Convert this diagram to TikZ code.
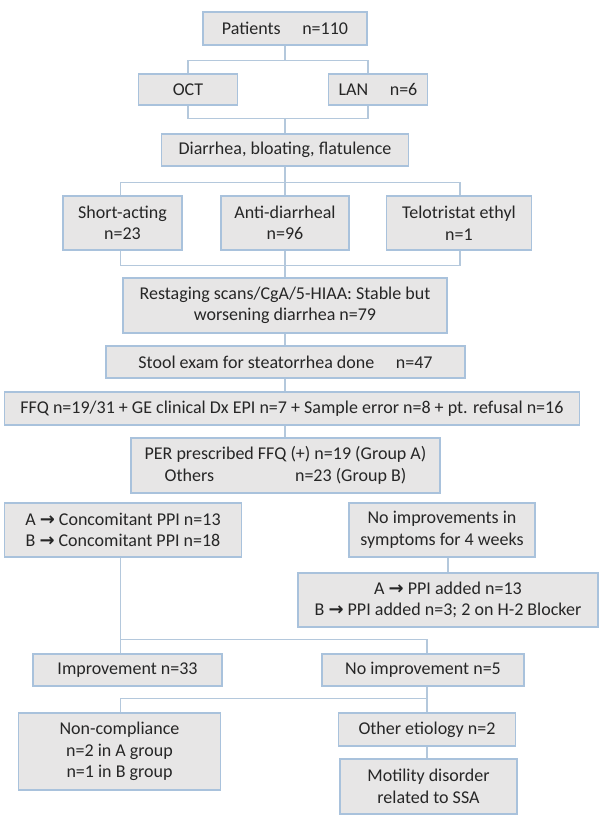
\documentclass[tikz,border=0pt]{standalone}
\usepackage{fontspec}
\setmainfont{Carlito}
\newfontfamily\arrowfont{DejaVu Sans}
\definecolor{boxgray}{HTML}{E7E6E6}
\definecolor{boxblue}{HTML}{A9C2DC}
\definecolor{linkblue}{HTML}{B4C8DC}
\definecolor{txtgray}{HTML}{262626}
\newcommand{\ra}{{\arrowfont\bfseries →}}
\tikzset{
  box/.style={draw=boxblue, fill=boxgray, line width=1.2pt, align=center,
    inner sep=0pt, text=txtgray, font=\fontsize{18}{21.5}\selectfont},
  link/.style={draw=linkblue, line width=1.1pt}
}
\begin{document}
\begin{tikzpicture}[x=1pt, y=-1pt]
        \useasboundingbox[fill=white] (0,0) rectangle (600,827);

        % Boxes
        \node[box, minimum width=164, minimum height=33] (pat) at (285,28.5) {Patients\hspace{1.2em}n=110};
        \node[box, minimum width=98.5, minimum height=31] (oct) at (188,89.5) {OCT};
        \node[box, minimum width=98.5, minimum height=31] (lan) at (378,89.5) {LAN\hspace{1.2em}n=6};
        \node[box, minimum width=247, minimum height=32] (diar) at (285,150) {Diarrhea, bloating, flatulence};
        \node[box, minimum width=119, minimum height=54] (shortact) at (122.5,223) {Short-acting\\n=23};
        \node[box, minimum width=128, minimum height=54] (antid) at (285,223) {Anti-diarrheal\\n=96};
        \node[box, minimum width=144.5, minimum height=54] (telo) at (459,223) {Telotristat ethyl\\n=1};
        \node[box, minimum width=324, minimum height=55] (restag) at (285,305.5) {Restaging scans/CgA/5-HIAA: Stable but\\worsening diarrhea n=79};
        \node[box, minimum width=359, minimum height=32] (stool) at (285.5,362) {Stool exam for steatorrhea done\hspace{1.2em}n=47};
        \node[box, minimum width=574.5, minimum height=33] (ffq) at (292,408.5) {FFQ n=19/31 + GE clinical Dx EPI n=7 + Sample error n=8 + pt. refusal n=16};
        \node[box, minimum width=309, minimum height=55] (per) at (285.5,465.5) {PER prescribed FFQ (+) n=19 (Group A)\\Others\hspace{4.5em}n=23 (Group B)};
        \node[box, minimum width=236.5, minimum height=54] (ppiconc) at (123,530) {A \ra{} Concomitant PPI n=13\\B \ra{} Concomitant PPI n=18};
        \node[box, minimum width=186, minimum height=54] (noimpwk) at (442,530) {No improvements in\\symptoms for 4 weeks};
        \node[box, minimum width=300, minimum height=54] (ppiadd) at (448,600) {A \ra{} PPI added n=13\\B \ra{} PPI added n=3; 2 on H-2 Blocker};
        \node[box, minimum width=189, minimum height=32] (improv) at (127.5,670) {Improvement n=33};
        \node[box, minimum width=202, minimum height=32] (noimp) at (423,670) {No improvement n=5};
        \node[box, minimum width=202.5, minimum height=77] (noncomp) at (119.5,751.5) {Non-compliance\\n=2 in A group\\n=1 in B group};
        \node[box, minimum width=177, minimum height=33] (otheret) at (427,729.5) {Other etiology n=2};
        \node[box, minimum width=177, minimum height=55] (motil) at (428.5,786.5) {Motility disorder\\related to SSA};

        % Connectors
        \draw[link] (pat.south) -- ++(0,15) coordinate (j1);
        \draw[link] (oct.north) |- (j1) -| ([xshift=-10]lan.north);
        \draw[link] (oct.south) -- ++(0,13) coordinate (j2) -| ([xshift=-10]lan.south);
        \draw[link] (j2 -| diar.north) -- (diar.north);
        \draw[link] (diar.south) -- ++(0,16) coordinate (j3);
        \draw[link] ([xshift=-2]shortact.north) |- (j3) -| ([xshift=1]telo.north);
        \draw[link] (j3) -- (antid.north);
        \draw[link] ([xshift=-2]shortact.south) -- ++(0,15) coordinate (j4) -| ([xshift=1]telo.south);
        \draw[link] (antid.south) -- (restag.north);
        \draw[link] (restag.south) -- (restag.south |- stool.north);
        \draw[link] (restag.south |- stool.south) -- (restag.south |- ffq.north);
        \draw[link] (restag.south |- ffq.south) -- (restag.south |- per.north);
        \draw[link] (ppiadd.north |- noimpwk.south) -- (ppiadd.north);
        \draw[link] ([xshift=-2.5]ppiconc.south) -- ++(0,82) coordinate (j6) -- (j6 |- improv.north);
        \draw[link] (j6) -| ([xshift=4]noimp.north);
        \draw[link] (otheret.north |- noimp.south) -- (otheret.north);
        \draw[link] (otheret.north) ++(0,-14) coordinate (j7) -| ([xshift=1]noncomp.north);
        \draw[link] (otheret.south) -- (otheret.south |- motil.north);

\end{tikzpicture}
\end{document}
